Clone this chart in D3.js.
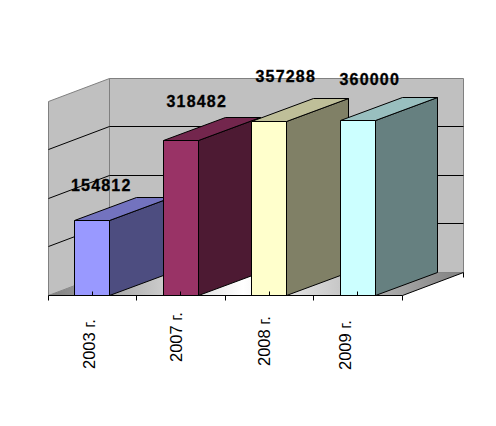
<!DOCTYPE html>
<html><head><meta charset="utf-8">
<script src="https://cdn.jsdelivr.net/npm/d3@7"></script>
<style>html,body{margin:0;padding:0;background:#fff}svg{display:block}</style>
</head><body><svg id="c" width="496" height="426"></svg>
<script>
const categories = ["2003 г.", "2007 г.", "2008 г.", "2009 г."];
const values = [154812, 318482, 357288, 360000];
const yTickValues = [100000, 200000, 300000];
const frontColors = ["#9999ff", "#993366", "#ffffcc", "#ccffff"];
const topColors = ["#7373bf", "#73264d", "#bfbf99", "#99bfbf"];
const sideColors = ["#4d4d80", "#4d1a33", "#808066", "#668080"];
const valueLabelOffset = [[9, -6], [16, -10], [16.5, -16], [12, -12]];
const catLabelPos = [[2.5, 369], [1, 362], [0.5, 366], [-7, 370]];

const W = 496, H = 426, depthX = 61, barDepthX = 62, depthY = -23;
const svg = d3.select("#c");
const x = d3.scaleBand().domain(categories).range([48, 402]).paddingInner(0.6).paddingOuter(0.3);
const edge = d3.scaleLinear().domain([0, categories.length]).range([48, 402]);
const y = d3.scaleLinear().domain([0, 400000]).range([295, 100]);
const px = v => Math.round(v) + 0.5;
const fx = v => Math.floor(v) + 0.5;
const poly = pts => pts.map(p => p.join(",")).join(" ");
const L = 48, R = 402, B = y(0), T = y(400000) + 1;

const grad = svg.append("defs").append("linearGradient").attr("id", "floor")
  .attr("gradientUnits", "userSpaceOnUse").attr("x1", L).attr("x2", R + depthX).attr("y1", 0).attr("y2", 0);
[[0, "#808080"], [0.47, "#ffffff"], [1, "#808080"]].forEach(s =>
  grad.append("stop").attr("offset", s[0]).attr("stop-color", s[1]));

const wall = svg.append("g").attr("stroke", "#808080").attr("fill", "#c0c0c0");
wall.append("polygon").attr("points", poly([[px(L), px(T)], [px(L + depthX), px(T + depthY)], [px(L + depthX), px(B + depthY)], [px(L), px(B)]]));
wall.append("polygon").attr("points", poly([[px(L + depthX), px(T + depthY)], [px(R + depthX), px(T + depthY)], [px(R + depthX), px(B + depthY)], [px(L + depthX), px(B + depthY)]]));

svg.append("polygon").attr("fill", "url(#floor)")
  .attr("points", poly([[px(L), px(B)], [px(L + depthX), px(B + depthY)], [px(R + depthX), px(B + depthY)], [px(R), px(B)]]));

const grid = svg.append("g").attr("stroke", "#000").attr("fill", "none");
yTickValues.forEach(v => {
  grid.append("polyline").attr("points", poly([[px(L), px(y(v))], [px(L + depthX), px(y(v) + depthY)], [px(R + depthX), px(y(v) + depthY)]]));
});

svg.append("line").attr("stroke", "#000")
  .attr("x1", px(R)).attr("y1", px(B)).attr("x2", px(R + depthX)).attr("y2", px(B + depthY));
svg.append("line").attr("stroke", "#000")
  .attr("x1", px(R + depthX)).attr("y1", px(B + depthY)).attr("x2", px(R + depthX)).attr("y2", px(B + depthY) + 5);

const bars = svg.selectAll("g.bar").data(categories).join("g").attr("class", "bar")
  .attr("stroke", "#000").attr("stroke-linejoin", "round");
bars.each(function (c, i) {
  const g = d3.select(this);
  const a = fx(x(c)), b = fx(x(c) + x.bandwidth()), t = px(y(values[i])), f = px(B);
  g.append("polygon").attr("fill", sideColors[i]).attr("points", poly([[b, t], [b + barDepthX, t + depthY], [b + barDepthX, f + depthY], [b, f]]));
  g.append("polygon").attr("fill", topColors[i]).attr("points", poly([[a, t], [a + barDepthX, t + depthY], [b + barDepthX, t + depthY], [b, t]]));
  g.append("rect").attr("fill", frontColors[i]).attr("x", a).attr("y", t).attr("width", b - a).attr("height", f - t);
});

svg.append("line").attr("stroke", "#000").attr("x1", px(L)).attr("x2", px(R)).attr("y1", px(B)).attr("y2", px(B));
svg.append("g").selectAll("line").data(d3.range(categories.length + 1)).join("line")
  .attr("stroke", "#000").attr("x1", d => fx(edge(d))).attr("x2", d => fx(edge(d)))
  .attr("y1", px(B)).attr("y2", px(B) + 5);
svg.append("g").selectAll("line").data(categories).join("line")
  .attr("stroke", "#000").attr("x1", c => fx(x(c) + x.bandwidth() / 2)).attr("x2", c => fx(x(c) + x.bandwidth() / 2))
  .attr("y1", px(B)).attr("y2", px(B) - 4);

svg.append("g").selectAll("text").data(values).join("text")
  .attr("x", (v, i) => x(categories[i]) + x.bandwidth() / 2 + valueLabelOffset[i][0])
  .attr("y", (v, i) => y(v) + depthY + valueLabelOffset[i][1])
  .attr("text-anchor", "middle")
  .attr("font-family", "'Liberation Sans', Arial, sans-serif").attr("font-weight", "bold")
  .attr("font-size", 16).attr("letter-spacing", 1.2).attr("fill", "#000")
  .attr("stroke", "#000").attr("stroke-width", 0.3)
  .text(v => v);

svg.append("g").selectAll("text").data(categories).join("text")
  .attr("transform", (c, i) => `translate(${x(c) + x.bandwidth() / 2 + catLabelPos[i][0]},${catLabelPos[i][1]}) rotate(-90)`)
  .attr("font-family", "'Liberation Sans', Arial, sans-serif")
  .attr("font-size", 16.5).attr("fill", "#000")
  .text(c => c);
</script></body></html>
